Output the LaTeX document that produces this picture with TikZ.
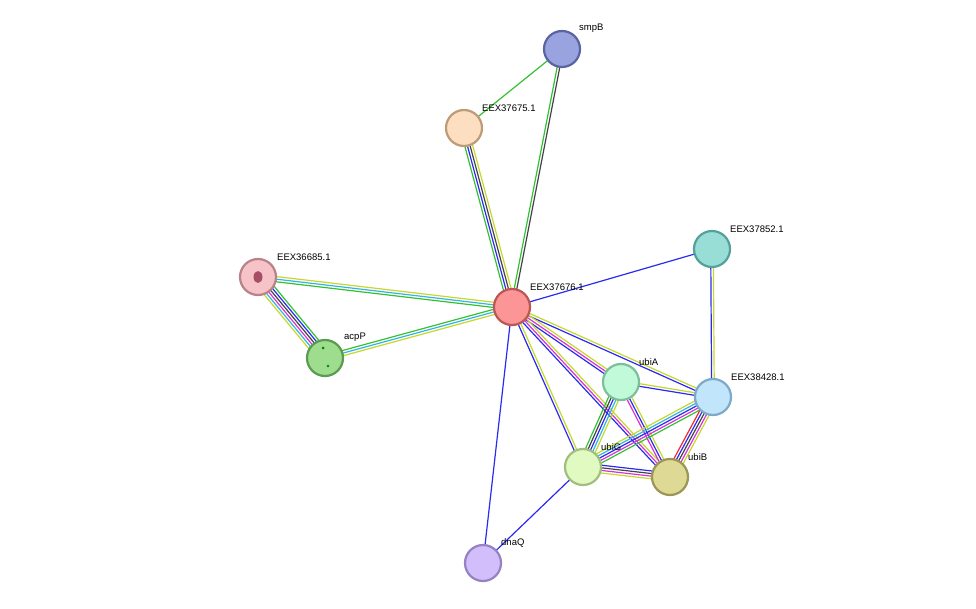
\documentclass[tikz,border=0pt]{standalone}
\usepackage{fontspec}
\setmainfont{Liberation Sans}
\usetikzlibrary{calc}
\definecolor{G}{HTML}{33C033}
\definecolor{C}{HTML}{33B5E0}
\definecolor{Y}{HTML}{C4D82E}
\definecolor{B}{HTML}{2A2AF0}
\definecolor{K}{HTML}{444444}
\definecolor{M}{HTML}{D633D6}
\definecolor{R}{HTML}{F02A2A}
\newcommand{\stredge}[3]{%
  \foreach \c [count=\i] in {#3} {\global\let\nlast\i}%
  \foreach \c [count=\i] in {#3} {%
    \pgfmathsetmacro{\off}{(\i-(\nlast+1)/2)*2.6}%
    \draw[\c, line width=1.2pt] ($(#1)!\off pt!90:(#2)$) -- ($(#2)!\off pt!-90:(#1)$);%
  }}
\tikzset{prot/.style={circle, minimum size=36pt, line width=2.2pt, inner sep=0pt},
  lab/.style={font=\fontsize{9.5}{10}\selectfont, anchor=south west, inner sep=1pt}}
\begin{document}
\begin{tikzpicture}[x=1pt,y=-1pt]
\useasboundingbox (0,0) rectangle (976,609);
\coordinate (smpB) at (562,49);
\coordinate (e75) at (464,128);
\coordinate (e85) at (258,277);
\coordinate (acpP) at (325,358);
\coordinate (e76) at (512,307);
\coordinate (e52) at (712,249);
\coordinate (e28) at (713,397);
\coordinate (ubiA) at (621,382);
\coordinate (ubiG) at (583,467);
\coordinate (ubiB) at (670,477);
\coordinate (dnaQ) at (483,563);
\stredge{smpB}{e75}{G}
\stredge{smpB}{e76}{G,K}
\stredge{e75}{e76}{G,B,K,Y}
\stredge{e85}{e76}{G,C,Y}
\stredge{acpP}{e76}{Y,C,G}
\stredge{e85}{acpP}{Y,C,M,K,B,G}
\stredge{e76}{e52}{B}
\stredge{e52}{e28}{B,Y}
\stredge{e76}{dnaQ}{B}
\stredge{ubiG}{dnaQ}{B}
\stredge{e76}{e28}{B,Y}
\stredge{e76}{ubiA}{B,M,Y}
\stredge{e76}{ubiB}{B,M,Y}
\stredge{e76}{ubiG}{B,Y}
\stredge{ubiA}{e28}{B,Y}
\stredge{ubiA}{ubiG}{G,K,B,C,Y}
\stredge{ubiA}{ubiB}{M,B,Y}
\stredge{e28}{ubiG}{Y,C,B,M,G}
\stredge{e28}{ubiB}{R,B,K,M,Y}
\stredge{ubiG}{ubiB}{Y,M,K,B}
\node[prot, fill={rgb,255:red,152;green,163;blue,224}, draw={rgb,255:red,90;green,100;blue,160}] (nsmpB) at (smpB) {};
\node[prot, fill={rgb,255:red,253;green,222;blue,193}, draw={rgb,255:red,190;green,155;blue,120}] (ne75) at (e75) {};
\node[prot, fill={rgb,255:red,246;green,196;blue,200}, draw={rgb,255:red,185;green,130;blue,135}] (ne85) at (e85) {};
\node[prot, fill={rgb,255:red,158;green,220;blue,142}, draw={rgb,255:red,90;green,155;blue,80}] (nacpP) at (acpP) {};
\node[prot, fill={rgb,255:red,252;green,150;blue,150}, draw={rgb,255:red,190;green,85;blue,85}] (ne76) at (e76) {};
\node[prot, fill={rgb,255:red,152;green,222;blue,214}, draw={rgb,255:red,85;green,160;blue,152}] (ne52) at (e52) {};
\node[prot, fill={rgb,255:red,193;green,229;blue,250}, draw={rgb,255:red,125;green,170;blue,200}] (ne28) at (e28) {};
\node[prot, fill={rgb,255:red,193;green,250;blue,217}, draw={rgb,255:red,125;green,190;blue,155}] (nubiA) at (ubiA) {};
\node[prot, fill={rgb,255:red,225;green,250;blue,193}, draw={rgb,255:red,160;green,190;blue,125}] (nubiG) at (ubiG) {};
\node[prot, fill={rgb,255:red,222;green,218;blue,150}, draw={rgb,255:red,155;green,150;blue,85}] (nubiB) at (ubiB) {};
\node[prot, fill={rgb,255:red,210;green,190;blue,250}, draw={rgb,255:red,150;green,130;blue,195}] (ndnaQ) at (dnaQ) {};
\fill[purple!60!black, opacity=0.6] (258,277) ellipse (4.5pt and 6pt);
\fill[green!50!black] (323,348) circle (1.5pt) (328,366) circle (1.3pt);
\node[lab] at (578,34) {smpB};
\node[lab] at (481,113) {EEX37675.1};
\node[lab] at (276,262) {EEX36685.1};
\node[lab] at (343,343) {acpP};
\node[lab] at (529,292) {EEX37676.1};
\node[lab] at (729,234) {EEX37852.1};
\node[lab] at (730,382) {EEX38428.1};
\node[lab] at (638,367) {ubiA};
\node[lab] at (600,452) {ubiG};
\node[lab] at (687,462) {ubiB};
\node[lab] at (500,548) {dnaQ};
\end{tikzpicture}
\end{document}
